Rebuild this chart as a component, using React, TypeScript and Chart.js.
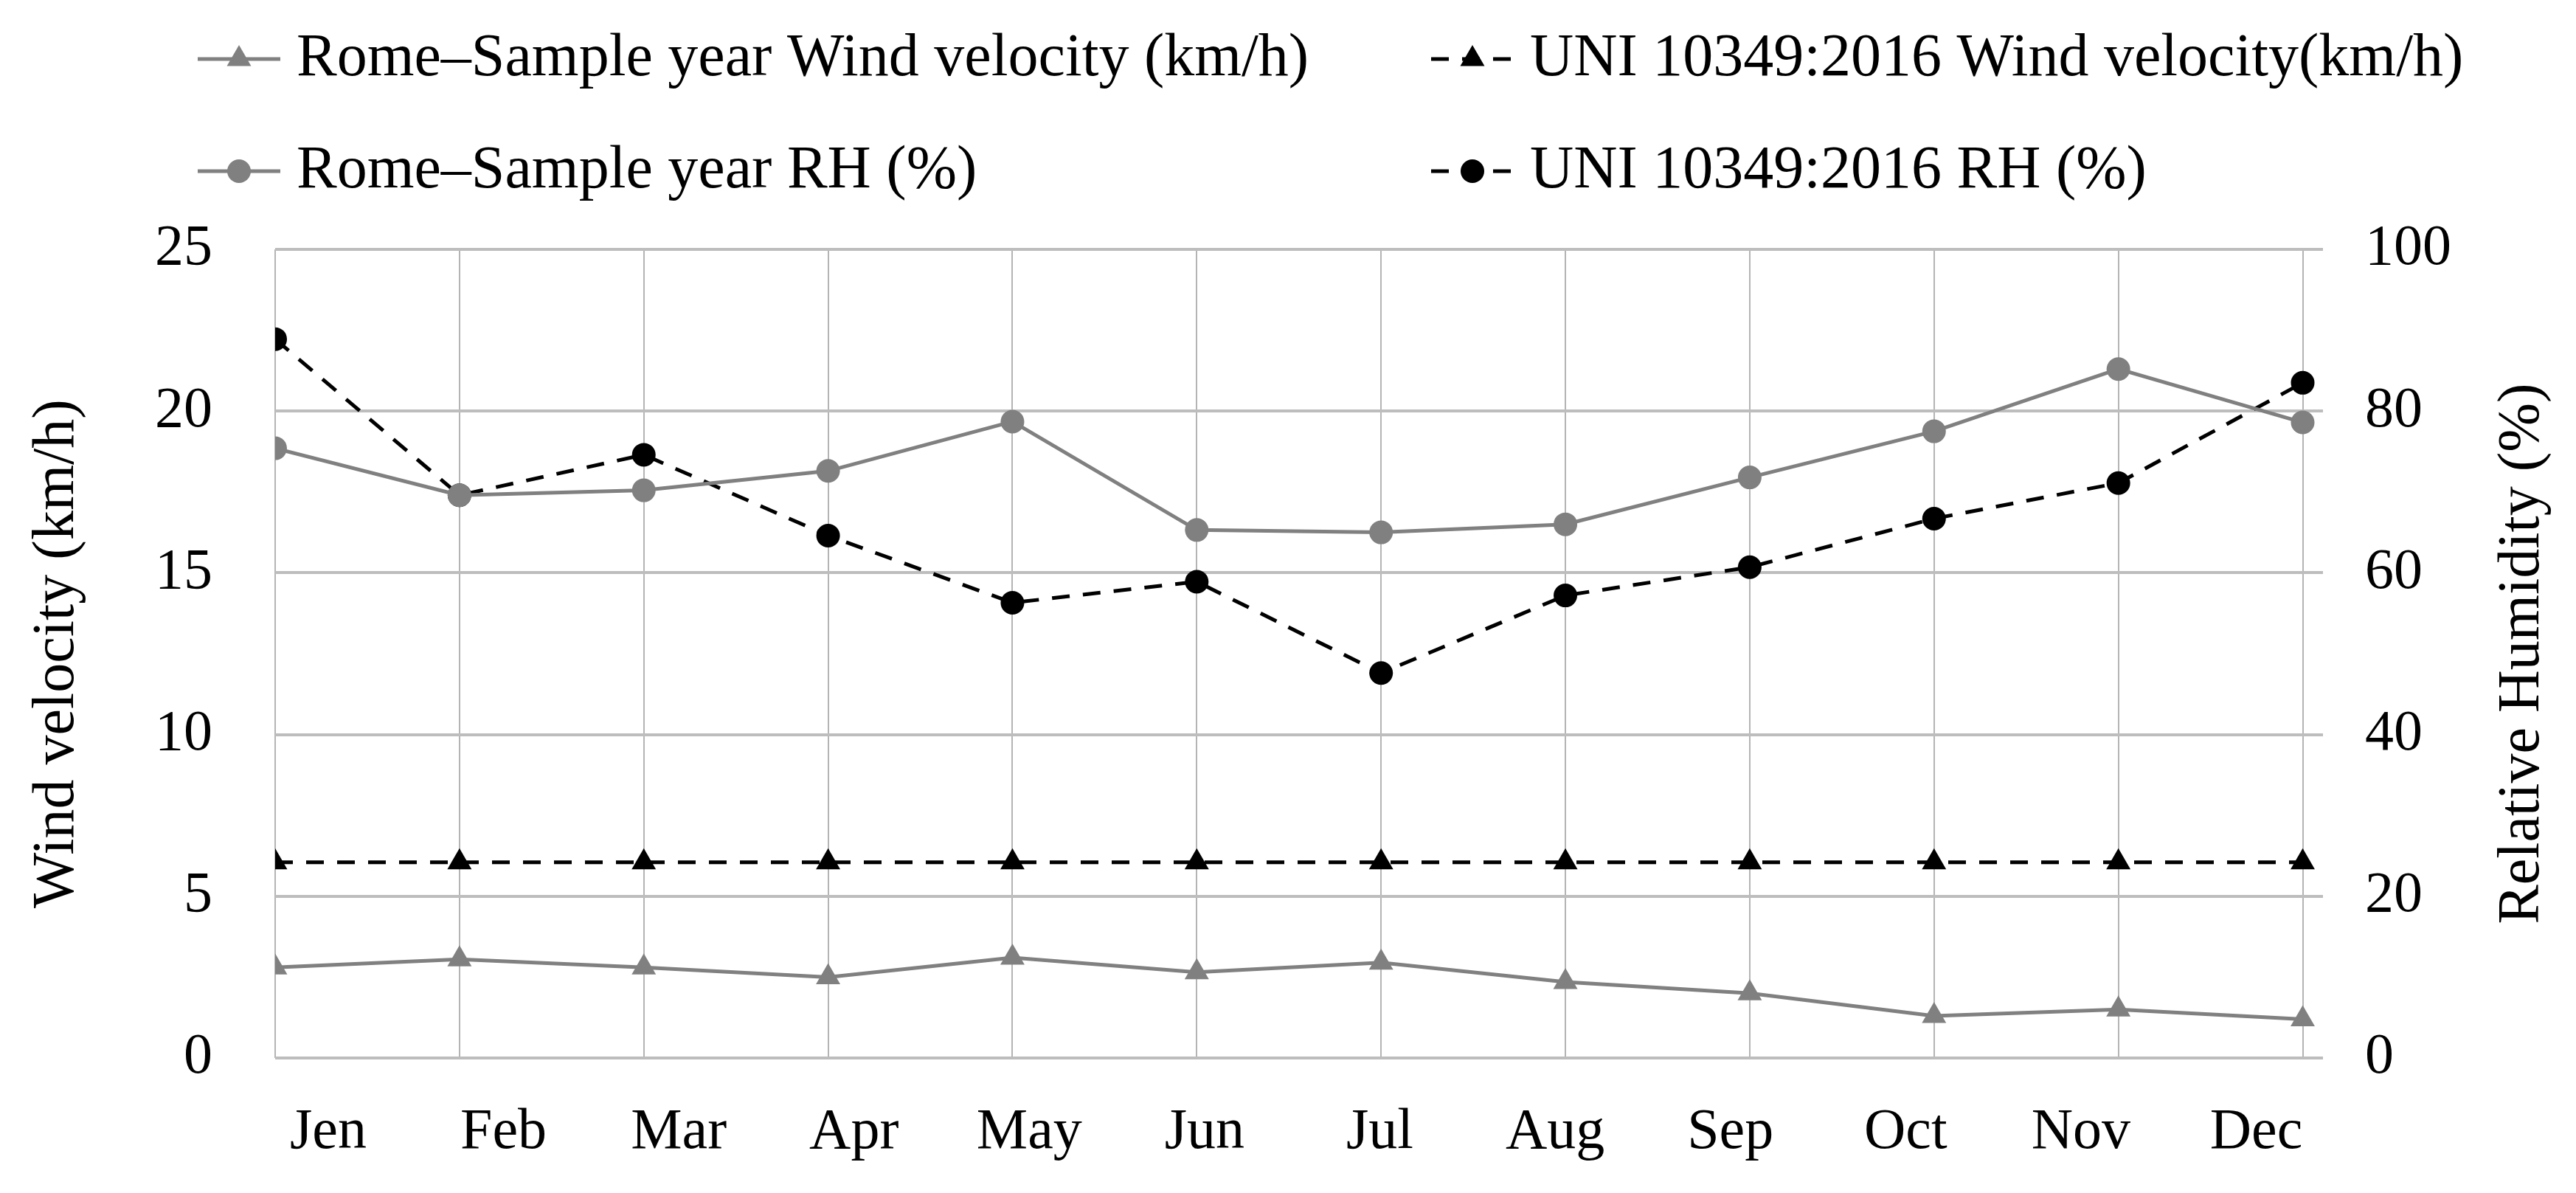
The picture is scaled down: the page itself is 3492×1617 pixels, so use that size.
import React, { useEffect, useRef } from "react";
import { Chart, registerables } from "chart.js";

Chart.register(...registerables);

const months = ["Jen", "Feb", "Mar", "Apr", "May", "Jun", "Jul", "Aug", "Sep", "Oct", "Nov", "Dec"];
const romeWind = [2.8, 3.05, 2.8, 2.5, 3.1, 2.65, 2.95, 2.35, 2.0, 1.3, 1.5, 1.2];
const uniWind = [6.05, 6.05, 6.05, 6.05, 6.05, 6.05, 6.05, 6.05, 6.05, 6.05, 6.05, 6.05];
const romeRH = [75.4, 69.6, 70.2, 72.6, 78.7, 65.3, 65.0, 66.0, 71.8, 77.5, 85.2, 78.6];
const uniRH = [88.9, 69.6, 74.6, 64.6, 56.3, 58.9, 47.6, 57.2, 60.7, 66.7, 71.1, 83.5];
const seriesLabels = [
  "Rome\u2013Sample year Wind velocity (km/h)",
  "UNI 10349:2016 Wind velocity(km/h)",
  "Rome\u2013Sample year RH (%)",
  "UNI 10349:2016 RH (%)",
];
const leftTitle = "Wind velocity (km/h)";
const rightTitle = "Relative Humidity (%)";

const FONT = '"Liberation Serif", "Times New Roman", serif';
const GREY = "#808080";
const BLACK = "#000000";

const toPoints = (vals: number[]) => vals.map((v, i) => ({ x: i, y: v }));

function drawMarker(ctx: CanvasRenderingContext2D, style: string, x: number, y: number, r: number, color: string) {
  ctx.fillStyle = color;
  ctx.beginPath();
  if (style === "triangle") {
    let rad = 0;
    ctx.moveTo(x + Math.sin(rad) * r, y - Math.cos(rad) * r);
    rad += (2 * Math.PI) / 3;
    ctx.lineTo(x + Math.sin(rad) * r, y - Math.cos(rad) * r);
    rad += (2 * Math.PI) / 3;
    ctx.lineTo(x + Math.sin(rad) * r, y - Math.cos(rad) * r);
    ctx.closePath();
  } else {
    ctx.arc(x, y, r, 0, Math.PI * 2);
  }
  ctx.fill();
}

const legendPlugin = {
  id: "customLegend",
  afterDraw(chart: any) {
    const ctx: CanvasRenderingContext2D = chart.ctx;
    const cols = [268, 1940];
    const rows = [80, 232];
    const layout = [
      [0, 0, 0],
      [1, 1, 0],
      [2, 0, 1],
      [3, 1, 1],
    ];
    ctx.save();
    layout.forEach(([di, c, r]) => {
      const ds = chart.data.datasets[di];
      const x0 = cols[c];
      const y = rows[r];
      const len = 112;
      ctx.strokeStyle = ds.borderColor;
      ctx.lineWidth = ds.borderWidth;
      ctx.setLineDash(ds.borderDash || []);
      ctx.beginPath();
      ctx.moveTo(x0, y);
      ctx.lineTo(x0 + len, y);
      ctx.stroke();
      ctx.setLineDash([]);
      drawMarker(ctx, ds.pointStyle, x0 + len / 2, y, ds.pointRadius, ds.pointBackgroundColor);
      ctx.fillStyle = "#000";
      ctx.font = `82px ${FONT}`;
      ctx.textBaseline = "middle";
      ctx.textAlign = "left";
      ctx.fillText(ds.label, x0 + len + 22, y);
    });
    // right axis title, read bottom-to-top like the left one
    const s = chart.scales.y1;
    const area = chart.chartArea;
    ctx.translate(s.right - 24 - 48, (area.top + area.bottom) / 2);
    ctx.rotate(-Math.PI / 2);
    ctx.font = `80px ${FONT}`;
    ctx.textAlign = "center";
    ctx.textBaseline = "middle";
    ctx.fillStyle = "#000";
    ctx.fillText(rightTitle, 0, 0);
    ctx.restore();
  },
};

const setMonthTicks = (s: any) => {
  s.ticks = months.map((_, i) => ({ value: i }));
};

export default function App() {
  const ref = useRef<HTMLCanvasElement | null>(null);
  useEffect(() => {
    if (!ref.current) return;
    const tickFont = { family: FONT, size: 78 };
    const titleFont = { family: FONT, size: 80 };
    const chart = new Chart(ref.current, {
      type: "line",
      data: {
        datasets: [
          {
            label: seriesLabels[0],
            data: toPoints(romeWind),
            yAxisID: "y",
            xAxisID: "x",
            borderColor: GREY,
            backgroundColor: GREY,
            borderWidth: 5,
            pointStyle: "triangle",
            pointRadius: 19,
            pointBackgroundColor: GREY,
            pointBorderWidth: 0,
            tension: 0,
          },
          {
            label: seriesLabels[1],
            data: toPoints(uniWind),
            yAxisID: "y",
            xAxisID: "x",
            borderColor: BLACK,
            backgroundColor: BLACK,
            borderWidth: 5,
            borderDash: [24, 18],
            pointStyle: "triangle",
            pointRadius: 19,
            pointBackgroundColor: BLACK,
            pointBorderWidth: 0,
            tension: 0,
          },
          {
            label: seriesLabels[2],
            data: toPoints(romeRH),
            yAxisID: "y1",
            xAxisID: "x",
            borderColor: GREY,
            backgroundColor: GREY,
            borderWidth: 5,
            pointStyle: "circle",
            pointRadius: 16,
            pointBackgroundColor: GREY,
            pointBorderWidth: 0,
            tension: 0,
          },
          {
            label: seriesLabels[3],
            data: toPoints(uniRH),
            yAxisID: "y1",
            xAxisID: "x",
            borderColor: BLACK,
            backgroundColor: BLACK,
            borderWidth: 5,
            borderDash: [24, 18],
            pointStyle: "circle",
            pointRadius: 16,
            pointBackgroundColor: BLACK,
            pointBorderWidth: 0,
            tension: 0,
          },
        ],
      },
      options: {
        animation: false,
        responsive: true,
        maintainAspectRatio: false,
        layout: { padding: { top: 338, left: 0, right: 0, bottom: 0 } },
        plugins: { legend: { display: false }, tooltip: { enabled: false } },
        scales: {
          x: {
            type: "linear",
            position: "bottom",
            min: 0,
            max: 11.11,
            afterBuildTicks: setMonthTicks,
            ticks: { display: false },
            grid: { color: "#b4b4b4", lineWidth: 2, drawTicks: false },
            border: { display: false },
          },
          xl: {
            type: "linear",
            position: "bottom",
            min: -0.303,
            max: 11.381,
            afterBuildTicks: setMonthTicks,
            ticks: {
              font: tickFont,
              color: "#000",
              padding: 55,
              maxRotation: 0,
              autoSkip: false,
              callback: (v: any) => months[Math.round(Number(v))] ?? "",
            },
            grid: { display: false, drawTicks: false },
            border: { display: false },
            afterFit: (s: any) => {
              s.height = 183;
            },
          },
          y: {
            position: "left",
            min: 0,
            max: 25,
            ticks: { stepSize: 5, font: tickFont, color: "#000", padding: 85 },
            grid: { color: "#bdbdbd", lineWidth: 4, drawTicks: false },
            border: { display: false },
            title: { display: true, text: leftTitle, font: titleFont, color: "#000", padding: { top: 30, bottom: 0 } },
            afterFit: (s: any) => {
              s.width = 373;
            },
          },
          y1: {
            position: "right",
            min: 0,
            max: 100,
            ticks: { stepSize: 20, font: tickFont, color: "#000", padding: 57 },
            grid: { drawOnChartArea: false, drawTicks: false },
            border: { display: false },
            title: { display: false },
            afterFit: (s: any) => {
              s.width = 343;
            },
          },
        },
      } as any,
      plugins: [legendPlugin],
    });
    return () => chart.destroy();
  }, []);
  return (
    <div style={{ position: "fixed", left: 0, top: 0, width: 3492, height: 1617, background: "#fff" }}>
      <canvas ref={ref} />
    </div>
  );
}
